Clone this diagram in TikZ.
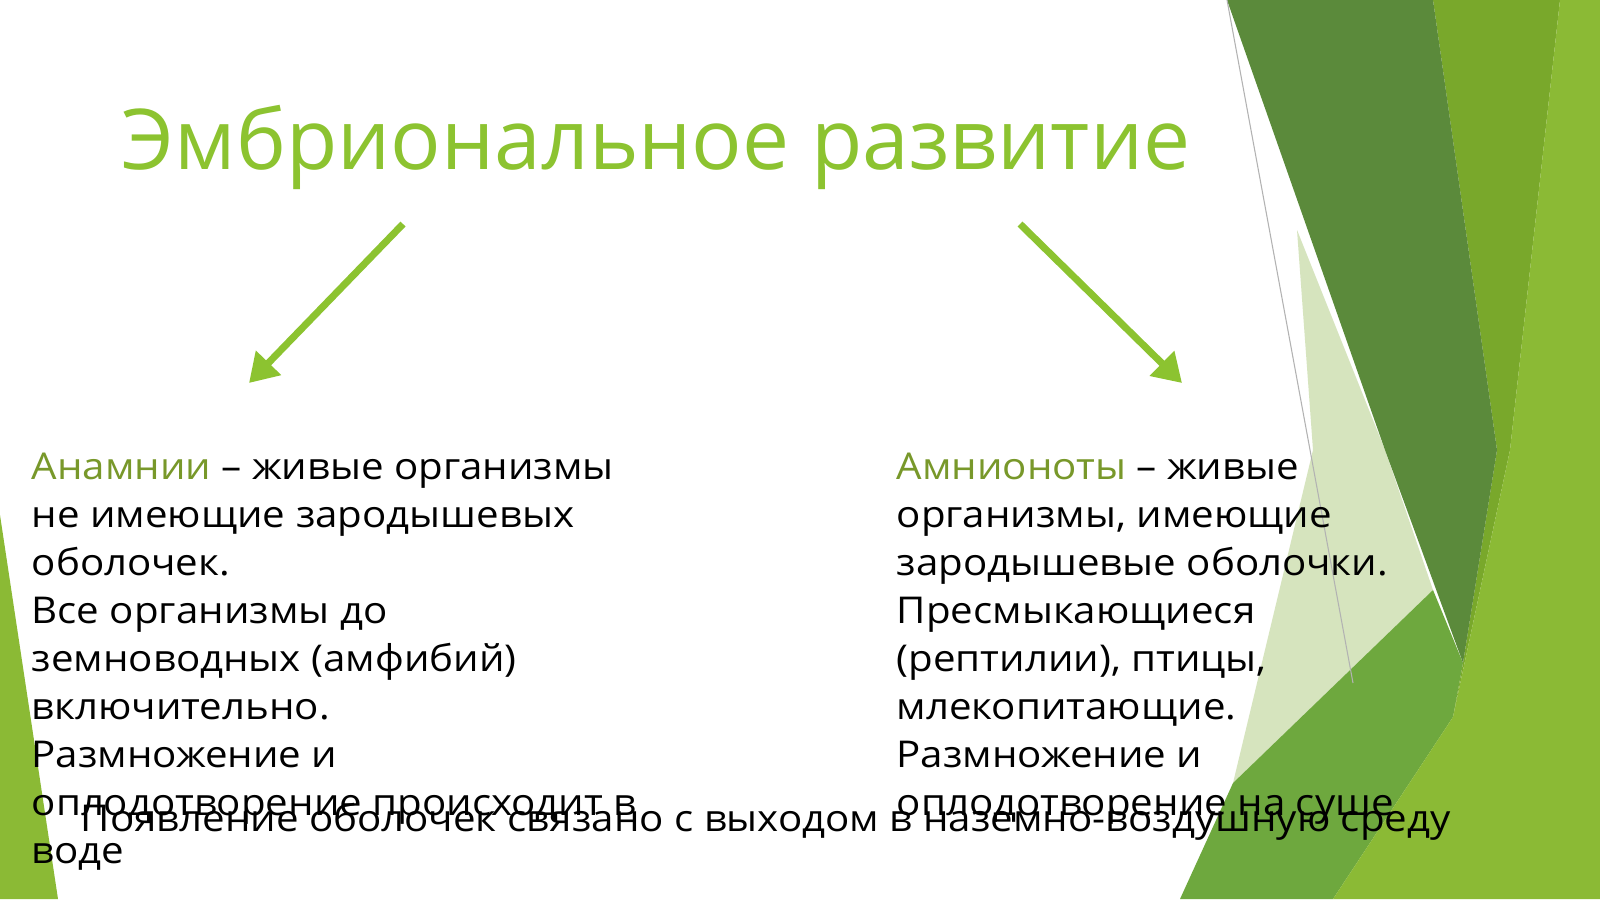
\documentclass[tikz,border=0pt]{standalone}
\usepackage{fontspec}
\setmainfont{Open Sans}
\newfontfamily\bodyfont{Open Sans}[FakeStretch=1.09]
\usepackage{xcolor}
\usetikzlibrary{calc}
\usetikzlibrary{arrows.meta}
\definecolor{titlegreen}{RGB}{140,195,48}
\definecolor{namegreen}{RGB}{120,152,42}
\definecolor{leafdark}{RGB}{91,138,59}
\definecolor{leafolive}{RGB}{121,168,43}
\definecolor{leafbright}{RGB}{139,186,53}
\definecolor{leafmid}{RGB}{110,168,62}
\definecolor{leafpale}{RGB}{214,228,190}
\tikzset{
	bodytext/.style={
			anchor=north west, inner sep=0pt, align=left,
			font=\bodyfont\fontsize{10.5}{13.66}\selectfont, text=black
		},
	splitarrow/.style={
			draw=titlegreen, line width=2pt,
			-{Triangle[length=8pt,width=9.5pt]}
		}
}

\begin{document}
\begin{tikzpicture}[x=0.01cm,y=-0.01cm]
		\useasboundingbox (0,0) rectangle (1600,899);
		\fill[white] (0,0) rectangle (1600,899);
		\fill[leafbright] (0,515)--(58,899)--(0,899)-- cycle;
		\fill[leafpale] (1297,230)--(1385,450)--(1433,590)--(1233,783)--(1313,450)-- cycle;
		\fill[leafmid] (1433,590)--(1463,663)--(1453,717)--(1333,899)--(1180,899)--(1233,783)-- cycle;
		\fill[leafolive] (1433,0)--(1560,0)--(1510,450)--(1453,717)--(1463,663)--(1497,450)-- cycle;
		\fill[leafbright] (1560,0)--(1600,0)--(1600,899)--(1333,899)--(1453,717)--(1510,450)-- cycle;
		\fill[leafdark] (1227,0)--(1433,0)--(1497,450)--(1463,663)--(1385,450)-- cycle;
		\draw[gray!60,line width=0.3pt] (1227,0)--(1353,683);
		\node[anchor=base west, inner sep=0pt, text=titlegreen,
			font=\fontsize{23.85}{28}\selectfont] (title) at (121,169) {Эмбриональное развитие};
		\coordinate (lstart) at (403,224);
		\coordinate (lend) at (249,383);
		\coordinate (rstart) at (1020,224);
		\coordinate (rend) at (1182,383);
		\draw[splitarrow] (lstart)--(lend);
		\draw[splitarrow] (rstart)--(rend);
		\node[bodytext] (anamnii) at (31,452) {\textcolor{namegreen}{Анамнии} – живые организмы\\
			не имеющие зародышевых\\
			оболочек.\\
			Все организмы до\\
			земноводных (амфибий)\\
			включительно.\\
			Размножение и\\
			оплодотворение происходит в\\
			воде};
		\node[bodytext] (amnioty) at (896,452) {\textcolor{namegreen}{Амнионоты} – живые\\
			организмы, имеющие\\
			зародышевые оболочки.\\
			Пресмыкающиеся\\
			(рептилии), птицы,\\
			млекопитающие.\\
			Размножение и\\
			оплодотворение на суше};
		\node[anchor=base west, inner sep=0pt, font=\bodyfont\fontsize{10.5}{13.66}\selectfont] (vyhod) at (80,831)
			{Появление оболочек связано с выходом в наземно-воздушную среду};
	\end{tikzpicture}
\end{document}
